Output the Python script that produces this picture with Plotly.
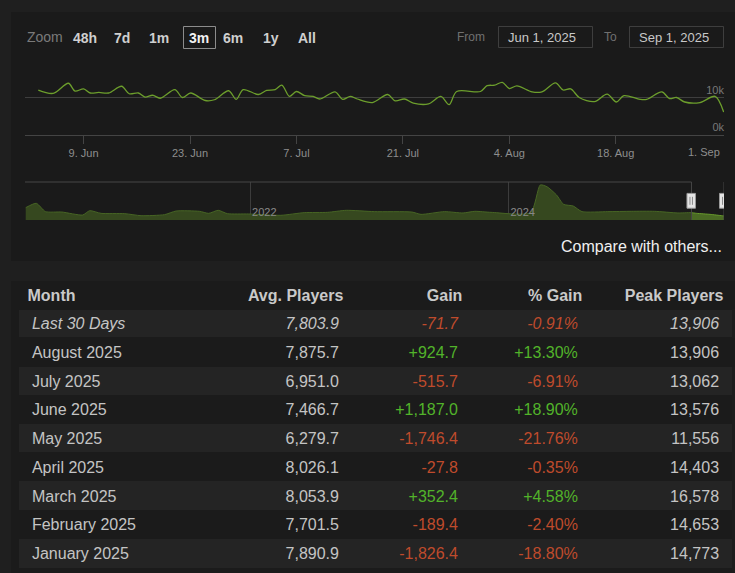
import plotly.graph_objects as go

W, H = 735, 573

# daily players, 3 month window
day_times = [
    "2025-06-03 01:00", "2025-06-05 00:00", "2025-06-07 00:00", "2025-06-07 21:00",
    "2025-06-09 00:00", "2025-06-09 21:00", "2025-06-11 00:00", "2025-06-12 07:00",
    "2025-06-14 00:00", "2025-06-15 00:00", "2025-06-16 05:00", "2025-06-17 02:00",
    "2025-06-18 02:00", "2025-06-19 02:00", "2025-06-21 00:00", "2025-06-22 00:00",
    "2025-06-23 02:00", "2025-06-25 00:00", "2025-06-26 05:00", "2025-06-28 02:00",
    "2025-06-29 02:00", "2025-06-30 00:00", "2025-07-02 00:00", "2025-07-03 02:00",
    "2025-07-04 05:00", "2025-07-05 02:00", "2025-07-06 02:00", "2025-07-07 00:00",
    "2025-07-08 02:00", "2025-07-09 05:00", "2025-07-10 02:00", "2025-07-12 02:00",
    "2025-07-13 02:00", "2025-07-14 02:00", "2025-07-15 00:00", "2025-07-17 00:00",
    "2025-07-19 00:00", "2025-07-20 00:00", "2025-07-21 05:00", "2025-07-22 09:00",
    "2025-07-24 09:00", "2025-07-26 00:00", "2025-07-27 02:00", "2025-07-28 02:00",
    "2025-07-31 05:00", "2025-08-01 02:00", "2025-08-02 02:00", "2025-08-03 02:00",
    "2025-08-04 00:00", "2025-08-05 00:00", "2025-08-07 00:00", "2025-08-08 07:00",
    "2025-08-10 02:00", "2025-08-11 02:00", "2025-08-12 02:00", "2025-08-13 05:00",
    "2025-08-15 05:00", "2025-08-16 21:00", "2025-08-18 02:00", "2025-08-19 02:00",
    "2025-08-21 05:00", "2025-08-22 02:00", "2025-08-24 02:00", "2025-08-25 02:00",
    "2025-08-26 00:00", "2025-08-27 02:00", "2025-08-29 02:00", "2025-08-31 02:00",
    "2025-09-01 05:00",
]
day_players = [
    11980, 11100, 13800, 11700, 12300, 11200, 11350, 11200,
    13000, 11000, 11200, 10100, 10600, 9800, 12100, 10000,
    11200, 9200, 9400, 11800, 9500, 12100, 10800, 11900,
    12100, 13300, 10300, 11600, 10500, 10300, 9600, 11500,
    9500, 10300, 9600, 8650, 10800, 9100, 9600, 8500,
    8300, 10300, 8100, 11600, 11600, 13150, 13300, 14050,
    12400, 13100, 11500, 11500, 13900, 12000, 12300, 10000,
    8900, 10900, 8800, 10500, 9500, 9500, 11500, 9700,
    10000, 8800, 8650, 10300, 6100,
]

# navigator, whole history
nav_dates = [
    "2020-04-07", "2020-05-07", "2020-06-02", "2020-07-18", "2020-09-15", "2020-10-05",
    "2020-11-06", "2021-01-12", "2021-02-27", "2021-05-04", "2021-06-06", "2021-08-11",
    "2021-09-06", "2021-10-03", "2021-10-29", "2021-12-28", "2022-03-29", "2022-06-03",
    "2022-08-08", "2022-09-30", "2022-12-18", "2023-04-03", "2023-04-29", "2023-07-04",
    "2023-08-26", "2023-09-28", "2023-11-13", "2024-03-04", "2024-03-31", "2024-04-19",
    "2024-05-16", "2024-06-05", "2024-07-02", "2024-07-27", "2024-10-08", "2024-12-13",
    "2025-02-17", "2025-04-24", "2025-05-31", "2025-06-16", "2025-07-24", "2025-08-26",
    "2025-09-01",
]
nav_players = [
    19500, 26300, 13200, 12600, 7900, 14700,
    10500, 10000, 6800, 8400, 14200, 13700,
    10500, 15300, 10000, 9500, 7400, 11600,
    12100, 15300, 13200, 12600, 8900, 13200,
    11100, 13700, 12100, 11600, 55300, 52600,
    39500, 24700, 22100, 13200, 13200, 13700,
    13700, 11100, 11600, 10500, 8900, 6800,
    6500,
]

x_ticks = ["2025-06-09", "2025-06-23", "2025-07-07", "2025-07-21",
           "2025-08-04", "2025-08-18", "2025-09-01"]
x_tick_labels = ["9. Jun", "23. Jun", "7. Jul", "21. Jul", "4. Aug", "18. Aug", "1. Sep"]
nav_ticks = ["2022-01-01", "2024-01-01"]

view_start, view_end = "2025-06-01 07:00", "2025-09-01 06:00"
nav_start = "2020-04-05"

zoom_buttons = ["48h", "7d", "1m", "3m", "6m", "1y", "All"]
from_date, to_date = "Jun 1, 2025", "Sep 1, 2025"

# monthly table
columns = ["Month", "Avg. Players", "Gain", "% Gain", "Peak Players"]
months = ["Last 30 Days", "August 2025", "July 2025", "June 2025", "May 2025",
          "April 2025", "March 2025", "February 2025", "January 2025"]
avg_players = [7803.9, 7875.7, 6951.0, 7466.7, 6279.7, 8026.1, 8053.9, 7701.5, 7890.9]
gain = [-71.7, 924.7, -515.7, 1187.0, -1746.4, -27.8, 352.4, -189.4, -1826.4]
pct_gain = [-0.91, 13.30, -6.91, 18.90, -21.76, -0.35, 4.58, -2.40, -18.80]
peak_players = [13906, 13906, 13062, 13576, 11556, 14403, 16578, 14653, 14773]

FONT = "Liberation Sans, Arial, Helvetica, sans-serif"
TXT = "#c4c4c4"
RED = "#bf4b2c"
GREEN = "#52b32a"
NB = "\u00a0"
ALIGN = ["left", "right", "right", "right", "right"]
TABLE_L, TABLE_R = 19.5, 732
COLW = [180.5, 151.6, 119.1, 120, 141.3]
HEAD_H, ROW_H = 28, 28.75
TABLE_TOP = 281


def px(x):
    return x / W


def py(y):
    return 1 - y / H


fig = go.Figure()

fig.add_trace(go.Scatter(
    x=day_times, y=day_players, mode="lines",
    line=dict(color="#6c9e2c", width=1.3, shape="spline", smoothing=0.9),
    xaxis="x", yaxis="y", hoverinfo="skip",
))

fig.add_trace(go.Scatter(
    x=nav_dates, y=nav_players, mode="lines", fill="tozeroy",
    line=dict(color="#679a2b", width=1, shape="spline", smoothing=0.6),
    fillcolor="#4a6a24", xaxis="x2", yaxis="y2", hoverinfo="skip",
))


def fmt_col(vals, kind):
    out = []
    for v in vals:
        if kind == "avg":
            s = f"{v:,.1f}"
        elif kind == "gain":
            s = f"{v:+,.1f}"
        elif kind == "pct":
            s = f"{v:+.2f}%"
        else:
            s = f"{v:,}"
        out.append(s + NB)
    return out


cols = [
    [NB + m for m in months],
    fmt_col(avg_players, "avg"),
    fmt_col(gain, "gain"),
    fmt_col(pct_gain, "pct"),
    fmt_col(peak_players, "peak"),
]
n = len(months)
col_colors = [[TXT] * n, [TXT] * n,
              [RED if g < 0 else GREEN for g in gain],
              [RED if p < 0 else GREEN for p in pct_gain],
              [TXT] * n]
row_fill = ["#242424" if i % 2 == 0 else "#1b1b1b" for i in range(n)]


def rows(a, b):
    return [c[a:b] for c in cols], [c[a:b] for c in col_colors], row_fill[a:b]


# part 1: column titles + italic "Last 30 Days" row
v1, c1, f1 = rows(0, 1)
bot1 = TABLE_TOP + HEAD_H + ROW_H
fig.add_trace(go.Table(
    domain=dict(x=[px(TABLE_L), px(TABLE_R)], y=[py(bot1 + 0.5), py(TABLE_TOP)]),
    columnwidth=COLW,
    header=dict(values=columns, align=ALIGN, height=HEAD_H,
                fill_color="#1b1b1b", line_color="#1b1b1b",
                font=dict(family=FONT, size=16, color="#c9c9c9", weight="bold")),
    cells=dict(values=v1, align=ALIGN, height=ROW_H,
               fill_color=[f1] * 5, line_color=[f1] * 5,
               font=dict(family=FONT, size=16, style="italic", color=c1)),
))

# part 2: monthly rows (first month row carried by the header slot)
v2, c2, f2 = rows(2, n)
fig.add_trace(go.Table(
    domain=dict(x=[px(TABLE_L), px(TABLE_R)], y=[0, py(bot1)]),
    columnwidth=COLW,
    header=dict(values=[c[1] for c in cols], align=ALIGN, height=ROW_H,
                fill_color=row_fill[1], line_color=row_fill[1],
                font=dict(family=FONT, size=16, color=[c[1] for c in col_colors])),
    cells=dict(values=v2, align=ALIGN, height=ROW_H,
               fill_color=[f2] * 5, line_color=[f2] * 5,
               font=dict(family=FONT, size=16, color=c2)),
))

shapes = [
    # chart panel and table container
    dict(type="rect", xref="paper", yref="paper", x0=px(11), x1=1, y0=py(261), y1=py(12),
         fillcolor="#1a1a1a", line_width=0, layer="below"),
    dict(type="rect", xref="paper", yref="paper", x0=px(11), x1=1, y0=0, y1=py(TABLE_TOP),
         fillcolor="#1b1b1b", line_width=0, layer="below"),
    # selected zoom button and date inputs
    dict(type="rect", xref="paper", yref="paper", x0=px(183.5), x1=px(215.5),
         y0=py(48.5), y1=py(26.5), line=dict(color="#8c8c8c", width=1)),
    dict(type="rect", xref="paper", yref="paper", x0=px(498.5), x1=px(592.5),
         y0=py(47.5), y1=py(26.5), line=dict(color="#3e3e3e", width=1)),
    dict(type="rect", xref="paper", yref="paper", x0=px(629.5), x1=px(723.5),
         y0=py(47.5), y1=py(26.5), line=dict(color="#3e3e3e", width=1)),
    # navigator mask over the unselected range
    dict(type="rect", xref="x2", yref="y2 domain", x0=nav_start, x1=view_start, y0=0, y1=1,
         fillcolor="rgba(26,26,26,0.42)", line_width=0, layer="above"),
    # navigator outline
    dict(type="line", xref="x2", yref="y2 domain", x0=nav_start, x1=view_start, y0=1, y1=1,
         line=dict(color="#474747", width=1)),
    dict(type="line", xref="x2", yref="y2 domain", x0=view_start, x1=view_start, y0=0, y1=1,
         line=dict(color="#474747", width=1)),
    dict(type="line", xref="x2", yref="y2 domain", x0=view_end, x1=view_end, y0=0, y1=1,
         line=dict(color="#474747", width=1)),
]
# navigator handles
for anchor, x0, x1 in [(view_start, -4.5, 4), (view_end, -4.5, 0.5)]:
    shapes.append(dict(type="rect", xref="x2", yref="y2 domain", xsizemode="pixel",
                       xanchor=anchor, x0=x0, x1=x1, y0=0.31, y1=0.70,
                       fillcolor="#e4e4e4", line=dict(color="#9a9a9a", width=1)))
    for g in ([-1.5, 1] if x1 > 1 else [-1.5]):
        shapes.append(dict(type="line", xref="x2", yref="y2 domain", xsizemode="pixel",
                           xanchor=anchor, x0=g, x1=g, y0=0.40, y1=0.61,
                           line=dict(color="#8a8a8a", width=1)))

annotations = [
    dict(text="Zoom", x=px(25), y=py(37), xanchor="left", yanchor="middle",
         font=dict(family=FONT, size=14, color="#7a7a7a")),
    dict(text="From", x=px(471.5), y=py(37), xanchor="center", yanchor="middle",
         font=dict(family=FONT, size=12, color="#707070")),
    dict(text="To", x=px(610), y=py(37), xanchor="center", yanchor="middle",
         font=dict(family=FONT, size=12, color="#707070")),
    dict(text=from_date, x=px(542), y=py(37), xanchor="center", yanchor="middle",
         font=dict(family=FONT, size=13, color="#c8c8c8")),
    dict(text=to_date, x=px(673.5), y=py(37), xanchor="center", yanchor="middle",
         font=dict(family=FONT, size=13, color="#c8c8c8")),
    dict(text="Compare with others...", x=px(724), y=py(246), xanchor="right", yanchor="middle",
         font=dict(family=FONT, size=16, color="#f0f0f0")),
]
button_x = [85.3, 122, 159, 199, 233, 270.5, 307]
for label, bx in zip(zoom_buttons, button_x):
    annotations.append(dict(
        text=f"<b>{label}</b>", x=px(bx), y=py(37.5), xanchor="center", yanchor="middle",
        font=dict(family=FONT, size=14, color="#f2f2f2" if label == "3m" else "#cfcfcf")))
for a in annotations:
    a.update(xref="paper", yref="paper", showarrow=False)

# the last date label sits flush with the plot edge, as on the site
annotations.append(dict(
    text=x_tick_labels[-1], x=x_ticks[-1], xref="x", y=py(152), yref="paper",
    xanchor="right", yanchor="middle", showarrow=False,
    font=dict(family=FONT, size=11, color="#8e8e8e")))
tick_text = x_tick_labels[:-1] + [""]

fig.update_layout(
    width=W, height=H,
    margin=dict(l=0, r=0, t=0, b=0),
    paper_bgcolor="#1f1f1f",
    plot_bgcolor="rgba(0,0,0,0)",
    showlegend=False,
    font=dict(family=FONT),
    shapes=shapes,
    annotations=annotations,
    xaxis=dict(
        domain=[px(25), px(724)], anchor="y", type="date",
        range=[view_start, view_end],
        tickvals=x_ticks, ticktext=tick_text,
        ticks="outside", ticklen=8, tickcolor="#444444",
        showgrid=False, zeroline=False,
        showline=True, linecolor="#444444", linewidth=1,
        tickfont=dict(size=11, color="#8e8e8e"),
        fixedrange=True,
    ),
    yaxis=dict(
        domain=[py(135), py(60)], anchor="x",
        range=[0, 20000],
        tickvals=[0, 10000, 20000], ticktext=["0k", "10k", ""],
        side="right", ticklabelposition="inside top", ticklabelstandoff=-3,
        showgrid=True, gridcolor="#3e3e3e", zeroline=False, showline=False,
        tickfont=dict(size=11, color="#787878"),
        fixedrange=True,
    ),
    xaxis2=dict(
        domain=[px(25), px(724)], anchor="y2", type="date",
        range=[nav_start, view_end],
        tickvals=nav_ticks, tickformat="%Y",
        ticklabelposition="inside right", ticks="",
        ticklabelstandoff=-4, ticklabelshift=2,
        showgrid=True, gridcolor="#555555", zeroline=False, showline=False,
        tickfont=dict(size=11, color="#d6d6d6"),
        fixedrange=True,
    ),
    yaxis2=dict(
        domain=[py(220), py(182)], anchor="x2",
        range=[0, 60000],
        showgrid=False, zeroline=False, showticklabels=False,
        fixedrange=True,
    ),
)

fig.write_html(
    "out.html",
    config={"displayModeBar": False},
    post_script="document.body.style.margin='0';document.body.style.overflow='hidden';",
)
